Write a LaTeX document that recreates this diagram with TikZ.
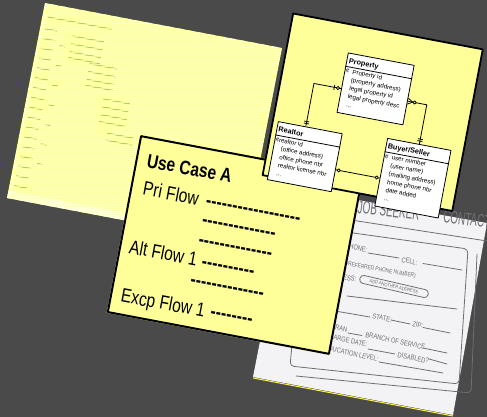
\documentclass[tikz,border=0pt]{standalone}
\usepackage{fontspec}
\setmainfont{Liberation Sans}
\newfontfamily\ucfont[FakeStretch=0.8]{Liberation Sans}
\newfontfamily\skfont[FakeStretch=0.8]{Liberation Sans}
\newfontfamily\sktfont[FakeStretch=0.55]{Liberation Sans}
\usetikzlibrary{calc}
\definecolor{bggray}{HTML}{4A4A4A}
\definecolor{cardyellow}{HTML}{FFFF99}
\definecolor{stripeyellow}{HTML}{FFFF94}
\definecolor{stripewhite}{HTML}{FFFFEA}
\definecolor{paper}{HTML}{F3F3F5}
\definecolor{ink}{HTML}{6E6E76}
\definecolor{faint}{HTML}{BDBDB0}
\newcommand\ucdash[1]{\foreach \i in {1,...,#1}{-{}}}
\newcommand\erdkey[1]{\makebox[7pt][l]{\#}#1}
\newcommand\erdatt[1]{\hspace*{7pt}#1}
\newcommand\erdbar[3]{\coordinate (tmpbar) at ($(#1)!#3!(#2)$);\draw[erdline] ($(tmpbar)!2.5pt!90:(#2)$) -- ($(tmpbar)!2.5pt!-90:(#2)$);}
\newcommand\erdring[3]{\draw[erdline,fill=cardyellow] ($(#1)!#3!(#2)$) circle[radius=1.6pt];}
\newcommand\erdcrow[2]{\coordinate (tmpapex) at ($(#1)!5pt!(#2)$);\draw[erdline] ($(#1)!3pt!90:(#2)$) -- (tmpapex) -- ($(#1)!3pt!-90:(#2)$);}
\begin{document}
\begin{tikzpicture}[x=1pt,y=-1pt,line join=round,
 erdcard/.style={draw=black,line width=1.8pt,fill=cardyellow,transform shape,inner sep=0pt},
 erdbox/.style={draw=black,line width=0.8pt,fill=white,transform shape,inner sep=0pt},
 erdhead/.style={transform shape,inner sep=0pt,anchor=base west,font=\fontsize{7.3}{8}\selectfont\bfseries},
 erdbody/.style={transform shape,inner sep=0pt,anchor=north west,align=left,font=\fontsize{6.2}{8.3}\selectfont},
 erdline/.style={draw=black,line width=0.8pt},
 uccard/.style={draw=black,line width=2pt,fill=cardyellow,transform shape,inner sep=0pt,minimum width=225pt,minimum height=179pt},
 uctitle/.style={transform shape,inner sep=0pt,anchor=base west,font=\ucfont\bfseries\fontsize{19.5}{22}\selectfont},
 uctext/.style={transform shape,inner sep=0pt,anchor=base west,font=\ucfont\fontsize{19.5}{22}\selectfont},
 ucdashes/.style={transform shape,inner sep=0pt,anchor=base west,font=\ucfont\bfseries\fontsize{20}{22}\selectfont},
 skline/.style={draw=ink,line width=0.8pt,line cap=round},
 sktext/.style={text=ink,inner sep=0pt,rotate=-12,font=\skfont\fontsize{7.2}{8}\selectfont},
 faintline/.style={draw=faint,line width=1.4pt}
]
\fill[bggray] (0,0) rectangle (487,417);
\useasboundingbox (0,0) rectangle (487,417);

% ---------- striped sheet (back) ----------
\begin{scope}
 \clip (45,3) -- (282,48) -- (244,243) -- (7,198) -- cycle;
 \fill[stripewhite] (0,0) rectangle (290,250);
 \begin{scope}[shift={(144.5,123)},rotate=-10.8]
  \draw[faintline] (-115,-86) -- (-50,-86);
  \foreach \v in {-74,-64,...,90} {\draw[faintline] (-116,\v) -- (-103,\v);}
  \foreach \v in {-72,-64,-56,-50} {\draw[faintline] (-87,\v) -- (-55,\v);}
  \foreach \v in {-48,-40,-32,-26} {\draw[faintline] (-65,\v) -- (-37,\v);}
  \foreach \v in {-16,-8,0,7} {\draw[faintline] (-45,\v) -- (-18,\v);}
  \foreach \v in {17,24} {\draw[faintline] (-35,\v) -- (-8,\v);}
  \foreach \v in {-60,-40,-20,0,20,40,60} {\draw[faintline] (-98,\v) -- (-92,\v);}
 \end{scope}
 \foreach \y in {0.5,2.5,...,248.5} {\draw[stripeyellow,line width=1pt,opacity=0.8] (0,\y) -- (290,\y);}
 \begin{scope}[shift={(144.5,123)},rotate=-10.8]
  \fill[white,opacity=0.45] (-125,92) rectangle (125,102);
 \end{scope}
\end{scope}

% ---------- sketch sheet (bottom right) ----------
\fill[paper] (290,188) -- (487,223) -- (453,415) -- (253,377) -- cycle;
\draw[yellow!75!white,line width=1pt] (253,378) -- (453,416);
\node[text=ink,inner sep=0pt,anchor=base west,rotate=-6.5,font=\sktfont\fontsize{18}{19}\selectfont] (sktitle) at (357,213) {JOB SEEKER\hspace{24pt}CONTACT};
\draw[skline] (338,218) -- (487,241);
\draw[skline,rounded corners=4pt] (303,226) -- (468,249) -- (459,384) -- (290,366) -- cycle;
\draw[skline,rounded corners=4pt] (477,254) -- (471,393) -- (296,376);
\node[sktext,anchor=base east] (skphone) at (367,252.5) {PHONE:};
\draw[skline] (368,253) -- (399,258);
\node[sktext,anchor=base west] (skcell) at (401,262) {CELL:};
\draw[skline] (423,263.5) -- (462,270);
\node[sktext,anchor=base west,rotate=2,font=\skfont\fontsize{6}{7}\selectfont] (skpref) at (343,265) {(PREFERRED PHONE NUMBER)};
\node[sktext,anchor=base east] (skaddr) at (356,282) {ADDRESS:};
\node[draw=ink,line width=0.8pt,rounded corners=3.5pt,rotate=-13,minimum width=70pt,minimum height=8pt,inner sep=0pt,text=ink,font=\skfont\fontsize{5}{6}\selectfont] (skpill) at (394,286.5) {ADD ANOTHER ADDRESS};
\draw[skline] (347,296) -- (457,309);
\draw[skline] (335,311) -- (370,317);
\node[sktext,anchor=base west] (skstate) at (372,318.5) {STATE:};
\draw[skline] (391,320) -- (410,324);
\node[sktext,anchor=base west] (skzip) at (412,326) {ZIP:};
\draw[skline] (423,327.5) -- (450,333);
\node[sktext,anchor=base east] (skvet) at (347,332.5) {VETERAN};
\draw[skline] (348,333) -- (362,335.5);
\node[sktext,anchor=base west] (skbranch) at (365,337) {BRANCH OF SERVICE};
\draw[skline] (423,348) -- (447,353);
\node[sktext,anchor=base east] (skdis) at (367,347) {DISCHARGE DATE:};
\draw[skline] (368,349) -- (395,354);
\node[sktext,anchor=base west] (skdisab) at (397,357) {DISABLED?};
\draw[skline] (429,359) -- (447,364);
\node[sktext,anchor=base east] (skedu) at (378,361.5) {EDUCATION LEVEL:};
\draw[skline] (379,362) -- (443,373);

% ---------- use case card ----------
\begin{scope}[shift={(235,245)},rotate=-10.7]
 \fill[cardyellow] (-113.5,-90.5) rectangle (113.5,90.5);
 \node[uccard] (uc) at (0,0) {};
 \node[uctitle] (uctitle) at (-102,-60) {Use Case A};
 \node[uctext] (ucpri) at (-100.7,-32) {Pri Flow};
 \node[ucdashes] (ucd1) at (-36.7,-32.6) {\ucdash{18}};
 \node[ucdashes] (ucd2) at (-37,-13) {\ucdash{14}};
 \node[ucdashes] (ucd3) at (-36.7,7.4) {\ucdash{14}};
 \node[uctext] (ucalt) at (-103.3,28) {Alt Flow 1};
 \node[ucdashes] (ucd4) at (-29.5,28.6) {\ucdash{10}};
 \node[ucdashes] (ucd5) at (-37.2,48.5) {\ucdash{14}};
 \node[uctext] (ucexc) at (-102.5,77) {Excp Flow 1};
 \node[ucdashes] (ucd6) at (-11.7,75.6) {\ucdash{8}};
\end{scope}

% ---------- ERD card ----------
\begin{scope}[shift={(372.75,112)},rotate=-10.7]
 \node[erdcard,minimum width=193pt,minimum height=164.5pt] (erd) at (0,0.25) {};
 \node[erdbox,minimum width=67pt,minimum height=60.5pt] (prop) at (-1.5,-23.25) {};
 \node[erdbox,minimum width=65pt,minimum height=59pt] (realtor) at (-58.5,56.5) {};
 \node[erdbox,minimum width=64.5pt,minimum height=68.8pt] (bs) at (51.75,57.6) {};
 \draw[erdline] ($(prop.north west)+(0,14)$) -- ($(prop.north east)+(0,14)$);
 \draw[erdline] ($(realtor.north west)+(0,14)$) -- ($(realtor.north east)+(0,14)$);
 \draw[erdline] ($(bs.north west)+(0,14)$) -- ($(bs.north east)+(0,14)$);
 \node[erdhead] (proph) at ($(prop.north west)+(2.5,10.5)$) {Property};
 \node[erdhead] (realtorh) at ($(realtor.north west)+(2,10.5)$) {Realtor};
 \node[erdhead] (bsh) at ($(bs.north west)+(2,10.5)$) {Buyer/Seller};
 \node[erdbody] (propb) at ($(prop.north west)+(1,15.8)$) {\erdkey{Property id}\\ \erdatt{(property address)}\\ \erdatt{legal property id}\\ \erdatt{legal property desc}\\ \erdatt{...}};
 \node[erdbody] (realtorb) at ($(realtor.north west)+(1,15.8)$) {\#realtor id\\ \erdatt{(office address)}\\ \erdatt{office phone nbr}\\ \erdatt{realtor license nbr}\\ \erdatt{...}};
 \node[erdbody] (bsb) at ($(bs.north west)+(1,15.8)$) {\erdkey{user number}\\ \erdatt{(user name)}\\ \erdatt{(mailing address)}\\ \erdatt{home phone nbr}\\ \erdatt{date added}\\ \erdatt{...}};
 % connector 1: Property -- Realtor
 \coordinate (p1) at ($(prop.north west)!0.6!(prop.south west)$);
 \coordinate (p2) at ($(prop.north east)!0.6!(prop.south east)$);
 \coordinate (r1) at ($(realtor.north west)!0.43!(realtor.north east)$);
 \coordinate (k1) at ($(p1)!(r1)!(p2)$);
 \draw[erdline] (p1) -- (k1) -- (r1);
 \erdbar{p1}{k1}{7pt}
 \erdring{p1}{k1}{3.2pt}
 \erdbar{r1}{k1}{3pt}
 \erdbar{r1}{k1}{5pt}
 % connector 2: Property -- Buyer/Seller
 \coordinate (k2) at ($(p1)!(bs.north)!(p2)$);
 \draw[erdline] (p2) -- (k2) -- (bs.north);
 \erdcrow{p2}{k2}
 \erdring{p2}{k2}{7pt}
 \erdbar{bs.north}{k2}{3pt}
 \erdbar{bs.north}{k2}{5pt}
 % connector 3: Realtor -- Buyer/Seller
 \coordinate (r3) at ($(realtor.north east)!0.62!(realtor.south east)$);
 \coordinate (b3) at ($(bs.north west)!(r3)!(bs.south west)$);
 \draw[erdline] (r3) -- (b3);
 \erdring{r3}{b3}{3pt}
 \erdring{b3}{r3}{3pt}
\end{scope}
\end{tikzpicture}
\end{document}
